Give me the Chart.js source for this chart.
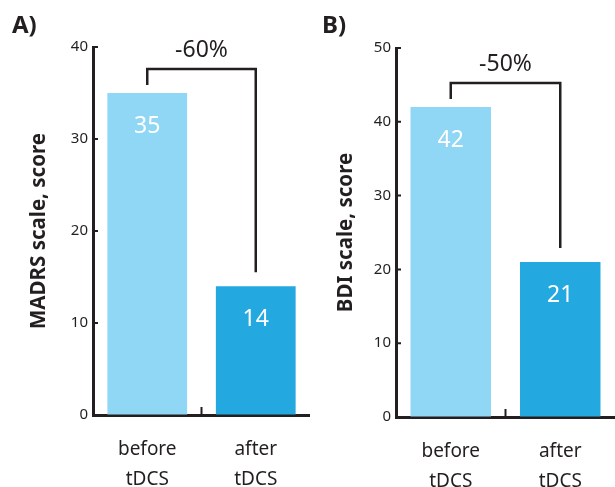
<!DOCTYPE html>
<html>
<head>
<meta charset="utf-8">
<script src="https://cdn.jsdelivr.net/npm/chart.js@4/dist/chart.umd.min.js"></script>
<style>
  body { margin: 0; background: #fff; }
  #panelA { position: absolute; left: 0; top: 0; width: 310px; height: 487px; }
  #panelB { position: absolute; left: 310px; top: 0; width: 305px; height: 487px; }
</style>
</head>
<body>
<div id="panelA"><canvas id="chartA"></canvas></div>
<div id="panelB"><canvas id="chartB"></canvas></div>
<script>
var categories = [['before', 'tDCS'], ['after', 'tDCS']];
var madrsScores = [35, 14];
var bdiScores = [42, 21];
var madrsMax = 40;
var bdiMax = 50;
var tickStep = 10;
var changeLabels = ['-60%', '-50%'];
var panelLetters = ['A)', 'B)'];
var barColors = ['#8fd7f4', '#24a8e0'];
var ink = '#231f20';
var FONT = '"Noto Sans", sans-serif';

// value labels, bracket with % change, inward ticks and panel letter
var annotate = {
  id: 'annotate',
  afterDatasetsDraw: function (chart, args, opts) {
    var ctx = chart.ctx;
    var xs = chart.scales.x, ys = chart.scales.y;
    var data = chart.data.datasets[0].data;
    ctx.save();
    ctx.textAlign = 'center';
    ctx.textBaseline = 'middle';
    ctx.fillStyle = '#fff';
    ctx.font = '23px ' + FONT;
    data.forEach(function (v, i) {
      ctx.fillText(v, xs.getPixelForValue(i), ys.getPixelForValue(v) + 33);
    });

    var x0 = xs.getPixelForValue(0), x1 = xs.getPixelForValue(1);
    var y0 = ys.getPixelForValue(data[0]), y1 = ys.getPixelForValue(data[1]);
    var top = Math.min(y0, y1) - 24;
    ctx.strokeStyle = ink;
    ctx.lineWidth = 2.5;
    ctx.beginPath();
    ctx.moveTo(x0, y0 - 8);
    ctx.lineTo(x0, top);
    ctx.lineTo(x1, top);
    ctx.lineTo(x1, y1 - 14);
    ctx.stroke();
    ctx.fillStyle = ink;
    ctx.fillText(opts.change, (x0 + x1) / 2, top - 19);

    // small ticks pointing into the plot
    ctx.lineWidth = 2;
    var xm = (x0 + x1) / 2;
    ctx.beginPath();
    ctx.moveTo(xm, ys.bottom);
    ctx.lineTo(xm, ys.bottom - 8);
    ys.ticks.forEach(function (t, i) {
      if (t.value === 0) return;
      var py = ys.getPixelForTick(i);
      ctx.moveTo(ys.right, py);
      ctx.lineTo(ys.right + 5, py);
    });
    ctx.stroke();

    ctx.textAlign = 'left';
    ctx.textBaseline = 'alphabetic';
    ctx.font = 'bold 24px ' + FONT;
    ctx.fillText(opts.letter, 12, 33);
    ctx.restore();
  }
};

function makeChart(id, scores, max, title, change, letter, yWidth, xHeight, padTop, titlePad) {
  return new Chart(document.getElementById(id), {
    type: 'bar',
    data: {
      labels: categories,
      datasets: [{
        data: scores,
        backgroundColor: barColors,
        categoryPercentage: 1,
        barPercentage: 0.735
      }]
    },
    options: {
      responsive: true,
      maintainAspectRatio: false,
      animation: false,
      layout: { padding: { top: padTop, right: 0, left: 0, bottom: 0 } },
      plugins: {
        legend: { display: false },
        tooltip: { enabled: false },
        annotate: { change: change, letter: letter }
      },
      scales: {
        x: {
          afterFit: function (s) { s.height = xHeight; },
          grid: { display: true, drawOnChartArea: false, drawTicks: false },
          border: { display: true, color: ink, width: 3 },
          ticks: {
            color: ink,
            padding: 20,
            font: { family: FONT, size: 19, lineHeight: 1.55 }
          }
        },
        y: {
          min: 0,
          max: max,
          afterFit: function (s) { s.width = yWidth; },
          ticks: {
            stepSize: tickStep,
            color: ink,
            padding: 5,
            font: { family: FONT, size: 15 }
          },
          grid: { display: true, drawOnChartArea: false, drawTicks: false },
          border: { display: true, color: ink, width: 3 },
          title: {
            display: true,
            text: title,
            color: ink,
            padding: { top: titlePad, bottom: 0 },
            font: { family: FONT, size: 20.5, weight: 'bold' }
          }
        }
      }
    },
    plugins: [annotate]
  });
}

makeChart('chartA', madrsScores, madrsMax, 'MADRS scale, score', changeLabels[0], panelLetters[0], 93, 72, 47, 27);
makeChart('chartB', bdiScores, bdiMax, 'BDI scale, score', changeLabels[1], panelLetters[1], 86, 70, 48, 24);
</script>
</body>
</html>
